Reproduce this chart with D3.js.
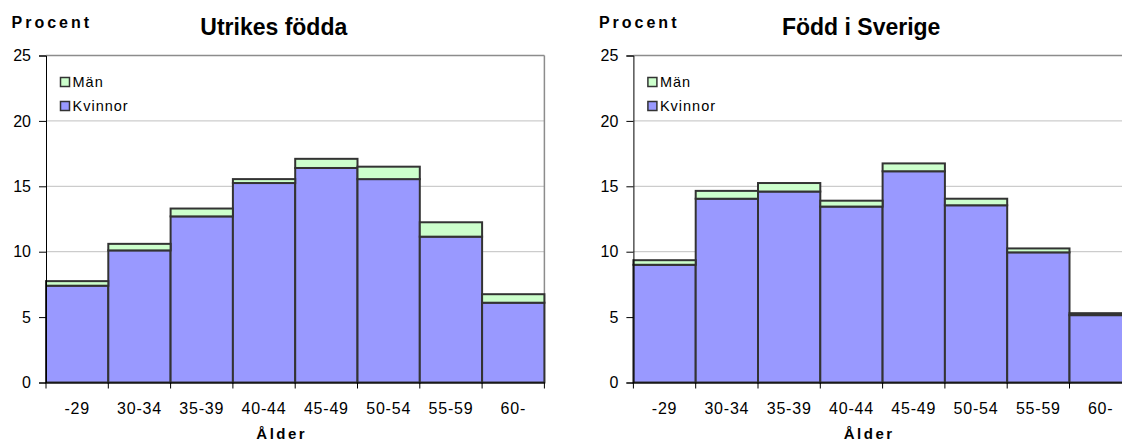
<!DOCTYPE html>
<html><head><meta charset="utf-8">
<script src="https://cdn.jsdelivr.net/npm/d3@7"></script>
<style>body{margin:0;background:#fff;} svg{display:block;font-family:Arial,"Liberation Sans",sans-serif;}</style>
</head><body>
<svg id="c" width="1122" height="441"></svg>
<script>
const categories = ["-29","30-34","35-39","40-44","45-49","50-54","55-59","60-"];
const utrikesKvinnor = [7.4, 10.1, 12.7, 15.25, 16.4, 15.55, 11.15, 6.1];
const utrikesMan = [0.35, 0.5, 0.6, 0.3, 0.7, 0.95, 1.1, 0.65];
const sverigeKvinnor = [9.0, 14.05, 14.6, 13.45, 16.15, 13.55, 9.95, 5.15];
const sverigeMan = [0.35, 0.6, 0.65, 0.45, 0.6, 0.5, 0.3, 0.15];
const yTicks = [0, 5, 10, 15, 20, 25];
const seriesNames = ["Män", "Kvinnor"];
const titles = ["Utrikes födda", "Född i Sverige"];

const colors = {"Män": "#ccffcc", "Kvinnor": "#9999ff"};
const FONT = "Arial,'Liberation Sans',sans-serif";
const svg = d3.select("#c");

function drawPanel(x0, x1, title, kv, man, clipRight) {
  const g = svg.append("g");
  const x = d3.scaleBand().domain(categories).range([x0, x1]).paddingInner(0).paddingOuter(0);
  const y = d3.scaleLinear().domain([0, 25]).range([382.5, 55.5]);
  const right = Math.min(x1, 1122);
  const w = x1 - x0;
  // gridlines
  g.selectAll(".grid").data(yTicks.filter(d => d > 0 && d < 25)).join("line")
    .attr("x1", x0).attr("x2", right).attr("y1", d => y(d)).attr("y2", d => y(d))
    .attr("stroke", "#c0c0c0").attr("stroke-width", 1);
  // plot border top/right
  g.append("line").attr("x1", x0).attr("x2", right).attr("y1", y(25)).attr("y2", y(25))
    .attr("stroke", "#8c8c8c").attr("stroke-width", 1.5);
  if (!clipRight) g.append("line").attr("x1", x1).attr("x2", x1).attr("y1", y(25)).attr("y2", y(0))
    .attr("stroke", "#8c8c8c").attr("stroke-width", 1.5);
  // stacked data
  const rows = categories.map((c, i) => ({cat: c, "Kvinnor": kv[i], "Män": man[i]}));
  const stack = d3.stack().keys(["Kvinnor", "Män"])(rows);
  stack.forEach(s => {
    g.selectAll(null).data(s).join("rect")
      .attr("x", d => x(d.data.cat)).attr("width", x.bandwidth())
      .attr("y", d => y(d[1])).attr("height", d => y(d[0]) - y(d[1]))
      .attr("fill", colors[s.key]).attr("stroke", "#333").attr("stroke-width", 2);
  });
  // y axis
  const ya = d3.axisLeft(y).tickValues(yTicks).tickSize(7).tickPadding(8);
  const yg = g.append("g").attr("transform", `translate(${x0},0)`).call(ya);
  yg.select(".domain").attr("stroke", "#000");
  yg.selectAll("text").attr("font-size", 16).attr("fill", "#000").attr("font-family", FONT);
  // x axis
  const xa = d3.axisBottom(x).tickSize(0).tickPadding(20);
  const xg = g.append("g").attr("transform", `translate(0,${y(0)})`).call(xa);
  xg.select(".domain").attr("stroke", "#000").attr("stroke-width", 1.2);
  xg.selectAll("text").attr("font-size", 16).attr("letter-spacing", 0.8).attr("fill", "#000").attr("font-family", FONT);
  // boundary ticks
  const bounds = categories.map(c => x(c)).concat([x1]).filter(v => v <= 1122);
  g.selectAll(".bt").data(bounds).join("line")
    .attr("x1", d => d).attr("x2", d => d).attr("y1", y(0)).attr("y2", y(0) + 6)
    .attr("stroke", "#000");
  // titles
  g.append("text").attr("x", x0 + 0.457 * w).attr("y", 35).attr("text-anchor", "middle")
    .attr("font-size", 23).attr("font-weight", "bold").text(title);
  g.append("text").attr("x", x0 - 34.5).attr("y", 28.3).attr("font-size", 16).attr("font-weight", "bold")
    .attr("letter-spacing", 3).text("Procent");
  g.append("text").attr("x", x0 + 0.473 * w).attr("y", 439).attr("text-anchor", "middle")
    .attr("font-size", 15).attr("font-weight", "bold").attr("letter-spacing", 2.5).text("Ålder");
  // legend
  seriesNames.forEach((n, i) => {
    const ly = 82 + i * 24;
    g.append("rect").attr("x", x0 + 14.5).attr("y", ly - 4.5).attr("width", 9).attr("height", 9)
      .attr("fill", colors[n]).attr("stroke", "#333").attr("stroke-width", 1.5);
    g.append("text").attr("x", x0 + 26.5).attr("y", ly + 5).attr("font-size", 14.5)
      .attr("letter-spacing", 1).text(n);
  });
}
drawPanel(46, 544.4, titles[0], utrikesKvinnor, utrikesMan, false);
drawPanel(633.4, 1131.8, titles[1], sverigeKvinnor, sverigeMan, true);
</script>
</body></html>
